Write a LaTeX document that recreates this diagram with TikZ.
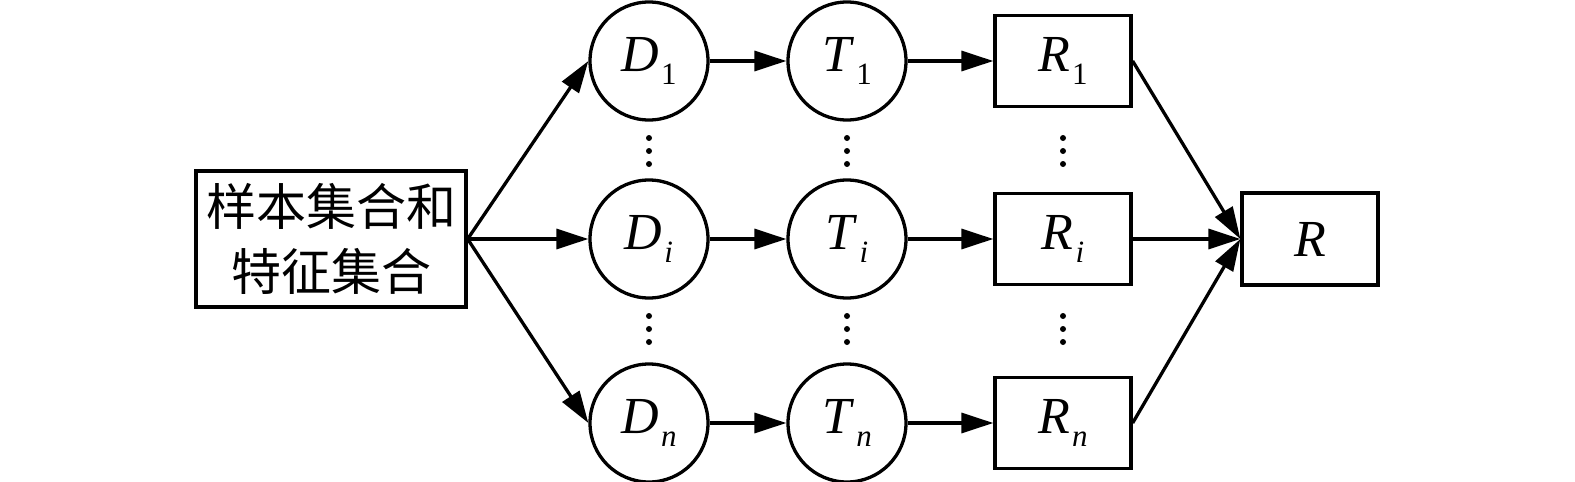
\documentclass[tikz,border=0pt]{standalone}
\usepackage{fontspec}
\setmainfont{Liberation Serif}
\newfontfamily\cjk{Noto Sans CJK SC}
\usetikzlibrary{arrows.meta}
\newcommand\lbl[2]{\textit{#1}\kern2pt\raisebox{-13pt}{\fontsize{31}{31}\selectfont #2}}
\begin{document}
\begin{tikzpicture}[x=1pt,y=-1pt, line width=3.3pt,
  circ/.style={draw, circle, minimum size=118pt, inner sep=0pt, font=\fontsize{52}{52}\selectfont},
  rbox/.style={draw, rectangle, minimum width=136pt, minimum height=91pt, inner sep=0pt, font=\fontsize{52}{52}\selectfont},
  srcbox/.style={draw, rectangle, minimum width=270pt, minimum height=136pt, inner sep=0pt, align=center, font=\cjk\fontsize{50}{65}\selectfont},
  arr/.style={-{Triangle[length=32pt,width=20pt]}},
  vdot/.style={circle, fill, inner sep=0pt, minimum size=6pt}]
\useasboundingbox (0,0) rectangle (1575,482);
% source
\node[srcbox] (S) at (331,239) {样本集合和\\特征集合};
% D circles
\node[circ] (D1) at (649,61) {\lbl{D}{1}};
\node[circ] (Di) at (649,239) {\lbl{D}{\textit{i}}};
\node[circ] (Dn) at (649,423) {\lbl{D}{\textit{n}}};
% T circles
\node[circ] (T1) at (847,61) {\lbl{T}{1}};
\node[circ] (Ti) at (847,239) {\lbl{T}{\textit{i}}};
\node[circ] (Tn) at (847,423) {\lbl{T}{\textit{n}}};
% R boxes
\node[rbox] (R1) at (1063,61) {\lbl{R}{1}};
\node[rbox] (Ri) at (1063,239) {\lbl{R}{\textit{i}}};
\node[rbox] (Rn) at (1063,423) {\lbl{R}{\textit{n}}};
% final
\node[rbox, minimum height=92pt, font=\itshape\fontsize{52}{52}\selectfont] (R) at (1310,239) {R};
% dots
\foreach \x/\n in {649/d, 847/t, 1063/r}{
  \node[vdot] (\n a1) at (\x,138) {};
  \node[vdot] (\n a2) at (\x,151) {};
  \node[vdot] (\n a3) at (\x,164) {};
  \node[vdot] (\n b1) at (\x,316) {};
  \node[vdot] (\n b2) at (\x,329) {};
  \node[vdot] (\n b3) at (\x,342) {};
}
% connectors
\draw[arr] (S.east) -- (D1.west);
\draw[arr] (S.east) -- (Di.west);
\draw[arr] (S.east) -- (Dn.west);
\draw[arr] (D1.east) -- (T1.west);
\draw[arr] (Di.east) -- (Ti.west);
\draw[arr] (Dn.east) -- (Tn.west);
\draw[arr] (T1.east) -- (R1.west);
\draw[arr] (Ti.east) -- (Ri.west);
\draw[arr] (Tn.east) -- (Rn.west);
\draw[arr] (R1.east) -- (R.west);
\draw[arr] (Ri.east) -- (R.west);
\draw[arr] (Rn.east) -- (R.west);
\end{tikzpicture}
\end{document}
